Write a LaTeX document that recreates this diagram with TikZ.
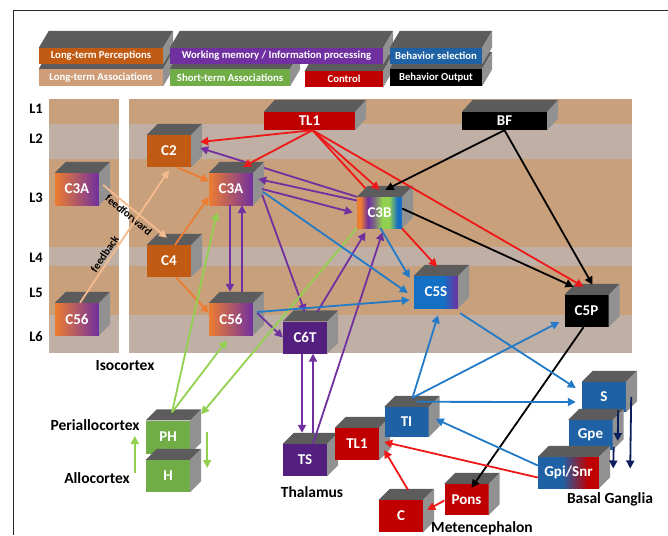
\documentclass[tikz,border=0pt]{standalone}
\usepackage{fontspec}
\setmainfont{Carlito}
\usetikzlibrary{arrows.meta}

\definecolor{tanbg}{RGB}{201,160,124}
\definecolor{greybg}{RGB}{191,175,165}
\definecolor{cubetop}{RGB}{92,92,92}
\definecolor{cubeside}{RGB}{145,145,145}
\definecolor{brownb}{RGB}{193,90,18}
\definecolor{ltassoc}{RGB}{207,157,120}
\definecolor{gorange}{RGB}{237,125,49}
\definecolor{gpurple}{RGB}{112,48,160}
\definecolor{dpurple}{RGB}{84,32,128}
\definecolor{lgreen}{RGB}{146,208,80}
\definecolor{boxgreen}{RGB}{112,173,71}
\definecolor{boxblue}{RGB}{30,98,165}
\definecolor{sblue}{RGB}{20,112,196}
\definecolor{boxred}{RGB}{192,0,0}
\definecolor{arred}{RGB}{238,24,24}
\definecolor{arblue}{RGB}{35,122,198}
\definecolor{arpeach}{RGB}{244,187,142}
\definecolor{arnavy}{RGB}{12,30,92}
\definecolor{framec}{RGB}{40,40,40}

\pgfdeclarelayer{front}
\pgfsetlayers{main,front}

% gradients of the mixed boxes
\pgfdeclarehorizontalshading{cthreeb}{100bp}{color(0bp)=(gorange); color(25bp)=(gorange); color(29bp)=(gorange); color(37bp)=(gpurple); color(43bp)=(gpurple!70!lgreen); color(53bp)=(lgreen); color(61bp)=(lgreen); color(70bp)=(sblue); color(75bp)=(sblue); color(100bp)=(sblue)}
\pgfdeclarehorizontalshading{cfives}{100bp}{color(0bp)=(sblue); color(25bp)=(sblue); color(58bp)=(sblue); color(75bp)=(gpurple); color(100bp)=(gpurple)}
\pgfdeclarehorizontalshading{gpisnr}{100bp}{color(0bp)=(boxblue); color(25bp)=(boxblue); color(45bp)=(boxblue); color(66bp)=(boxred); color(75bp)=(boxred); color(100bp)=(boxred)}

% front face as a node, then top and side
\newcommand{\brick}[5][11pt,11pt]{%
  \node[brick,#4] (#2) at (#3) {#5};
  \fill[bricktop] (#2.north west) -- ++(#1) -- ([shift={(#1)}]#2.north east) -- (#2.north east) -- cycle;
  \fill[brickside] (#2.north east) -- ([shift={(#1)}]#2.north east) -- ([shift={(#1)}]#2.south east) -- (#2.south east) -- cycle;
}

\tikzset{
  brick/.style={minimum width=44pt, minimum height=32pt, inner sep=0pt, text=white, font=\fontsize{15}{16}\selectfont\bfseries},
  bricktop/.style={fill=cubetop},
  brickside/.style={fill=cubeside},
  legendbox/.style={minimum height=16pt, font=\fontsize{10.7}{12}\selectfont\bfseries},
  laylabel/.style={font=\fontsize{14.5}{16}\selectfont\bfseries},
  region/.style={font=\fontsize{15.5}{17}\selectfont\bfseries},
  feed/.style={text=black, font=\fontsize{11}{12}\selectfont\bfseries, inner sep=2pt},
  ar/.style={line width=1.8pt, -{Triangle[length=8pt,width=8pt]}},
}

\begin{document}
\begin{tikzpicture}[x=1pt,y=-1pt]
\useasboundingbox (0,0) rectangle (668,535);
\draw[framec, line width=0.8pt] (13,535) -- (13,10) -- (668,10);

% cortical layers
\fill[tanbg] (49,99) rectangle (119,353);
\fill[tanbg] (129,99) rectangle (632,353);
\foreach \ya/\yb in {124/159,247/266,315/353}{
  \fill[greybg] (49,\ya) rectangle (119,\yb);
  \fill[greybg] (129,\ya) rectangle (632,\yb);
}
\foreach \n/\y in {1/109,2/139,3/198,4/258,5/293,6/337}
  \node[laylabel] (l\n) at (36,\y) {L\n};

% legend, lower row first
\brick[10pt,17pt]{lta}{101,77.5}{legendbox, fill=ltassoc, minimum width=124pt, minimum height=17pt}{Long-term Associations}
\brick[10pt,17pt]{sta}{230,77.5}{legendbox, fill=boxgreen, minimum width=120pt, minimum height=17pt}{Short-term Associations}
\brick[10pt,17pt]{ctl}{344,79}{legendbox, fill=boxred, minimum width=78pt}{Control}
\brick[10pt,17pt]{bout}{436,77.5}{legendbox, fill=black, minimum width=92pt, minimum height=17pt}{Behavior Output}
\brick[10pt,17pt]{ltp}{101,56}{legendbox, fill=brownb, minimum width=124pt}{Long-term Perceptions}
\brick[10pt,17pt]{wm}{276.5,56}{legendbox, fill=gpurple, minimum width=213pt}{Working memory / Information processing}
\brick[10pt,17pt]{bsel}{436,56}{legendbox, fill=boxblue, minimum width=92pt}{Behavior selection}

% isocortex
\brick{lc3a}{77,189}{left color=gorange, right color=gpurple}{C3A}
\brick{lc56}{77,319}{left color=gorange, right color=gpurple}{C56}
\brick{c2}{169,151}{fill=brownb}{C2}
\brick{c4}{169,261}{fill=brownb}{C4}
\brick{c56}{231,319}{left color=gorange, right color=gpurple}{C56}
\brick{c6t}{305,337.5}{fill=dpurple}{C6T}
\brick{c5s}{436,292}{shading=cfives}{C5S}
\brick{c5p}{586.5,311}{fill=black}{C5P}
\brick[11pt,12pt]{tl1}{309.5,121}{fill=boxred, minimum width=91pt, minimum height=18pt}{TL1}
\brick[11pt,12pt]{bf}{504.5,121}{fill=black, minimum width=85pt, minimum height=18pt}{BF}

% below the cortex
\brick{ph}{168,437}{fill=boxgreen, minimum height=33pt}{PH}
\brick{h}{168,476}{fill=boxgreen}{H}
\brick{ts}{305,460}{fill=dpurple}{TS}
\brick{thl}{357,444}{fill=boxred}{TL1}
\brick{ti}{406.5,422}{fill=boxblue, minimum height=30pt}{TI}
\brick{s}{604,397}{fill=boxblue, minimum height=30pt}{S}
\brick{gpe}{590.5,435}{fill=boxblue, minimum height=30pt}{Gpe}
\brick{gpi}{568.5,472.5}{shading=gpisnr, minimum width=61pt, minimum height=31pt}{Gpi/Snr}
\brick{pons}{466.5,499.5}{fill=boxred, minimum height=31pt}{Pons}
\brick{cbl}{401,516}{fill=boxred}{C}

\node[region] (iso) at (125,366) {Isocortex};
\node[region] (peri) at (95,425) {Periallocortex};
\node[region] (allo) at (97,478) {Allocortex};
\node[region] (thal) at (312,492) {Thalamus};
\node[region] (bg) at (610,499) {Basal Ganglia};
\node[region] (met) at (482,528) {Metencephalon};

\begin{pgfonlayer}{front}
\brick{c3a}{231,189}{left color=gorange, right color=gpurple}{C3A}
\brick{c3b}{379.5,212.5}{shading=cthreeb, minimum width=45pt, minimum height=31pt}{C3B}
\end{pgfonlayer}

% these two run behind C3A and C3B
\draw[ar, color=gpurple] (c3b.north west) -- ([xshift=9pt,yshift=3pt]c2.east);
\draw[ar, color=arred] ([xshift=3pt]tl1.south) -- ([xshift=1pt,yshift=9pt]c5s.north);

\begin{pgfonlayer}{front}
% long-term perceptions
\draw[ar, color=gorange] ([xshift=8pt]c2.south) -- ([yshift=8pt]c3a.west);
\draw[ar, color=gorange] ([xshift=6pt]c4.north) -- ([yshift=-8pt]c3a.west);
\draw[ar, color=gorange] ([xshift=7pt]c4.south) -- ([yshift=6pt]c56.west);
\draw[ar, color=arpeach] ([xshift=4pt,yshift=4pt]lc3a.east) -- node[feed, pos=0.47, sloped, below] {feedforward} ([xshift=-2pt,yshift=7pt]c4.north);
\draw[ar, color=arpeach] ([xshift=3pt]lc56.north) -- node[feed, pos=0.34, sloped, above] {feedback} ([yshift=-3pt]c2.south);

% control
\draw[ar, color=arred] ([xshift=3pt]tl1.south) -- ([xshift=9pt,yshift=9pt]c2.east);
\draw[ar, color=arred] ([xshift=3pt]tl1.south) -- ([xshift=12pt,yshift=6pt]c3a.north);
\draw[ar, color=arred] ([xshift=3pt]tl1.south) -- ([yshift=7pt]c3b.north);
\draw[ar, color=arred] ([xshift=3pt]tl1.south) -- ([xshift=-3pt,yshift=8pt]c5p.north);

% behavior output
\draw[ar, color=black] (bf.south) -- ([xshift=6pt,yshift=7pt]c3b.north);
\draw[ar, color=black] (bf.south) -- ([xshift=6pt,yshift=10pt]c5p.north);
\draw[ar, color=black] ([yshift=4pt]c3b.east) -- ([xshift=-13pt,yshift=8pt]c5p.north);
\draw[ar, color=black] ([xshift=-3pt]c5p.south) -- ([xshift=5pt,yshift=-4pt]pons.north);

% working memory
\draw[ar, color=gpurple] ([yshift=12pt]c3b.west) -- ([xshift=5pt,yshift=10pt]c3a.east);
\draw[ar, color=gpurple] ([xshift=9pt]c3a.east) -- ([xshift=-4pt]c3b.west);
\draw[ar, color=gpurple] ([xshift=-1pt]c3a.south) -- ([xshift=-1pt,yshift=11pt]c56.north);
\draw[ar, color=gpurple] ([xshift=11pt,yshift=11pt]c56.north) -- ([xshift=11pt]c3a.south);
\draw[ar, color=gpurple] ([xshift=9pt,yshift=-6pt]c3a.east) -- ([yshift=9pt]c6t.north);
\draw[ar, color=gpurple] ([xshift=4pt,yshift=6pt]c56.east) -- (c6t.west);
\draw[ar, color=gpurple] ([xshift=12pt,yshift=9pt]c6t.north) -- ([xshift=-14pt,yshift=-4pt]c3b.south);
\draw[ar, color=gpurple] ([xshift=8pt]ts.north) -- ([xshift=3pt,yshift=-4pt]c3b.south);
\draw[ar, color=gpurple] ([xshift=-3pt]c6t.south) -- ([xshift=-3pt,yshift=11pt]ts.north);
\draw[ar, color=gpurple] ([xshift=8pt,yshift=11pt]ts.north) -- ([xshift=8pt]c6t.south);

% short-term associations
\draw[ar, color=lgreen] ([xshift=4pt,yshift=8pt]ph.north) -- ([xshift=-14pt,yshift=-7pt]c3a.south);
\draw[ar, color=lgreen] ([xshift=4pt,yshift=8pt]ph.north) -- ([xshift=-4pt,yshift=-5pt]c56.south);
\draw[ar, color=lgreen] (c3b.south west) -- ([xshift=11pt,yshift=6pt]ph.north east);
\draw[ar, color=lgreen] ([xshift=-11pt,yshift=3pt]h.west) -- ([xshift=-11pt,yshift=1pt]ph.west);
\draw[ar, color=lgreen] ([xshift=17pt,yshift=5pt]ph.east) -- ([xshift=17pt,yshift=8pt]h.east);

% behavior selection
\draw[ar, color=arblue] ([xshift=10pt,yshift=-3pt]c3a.east) -- ([xshift=-6pt,yshift=-1pt]c5s.west);
\draw[ar, color=arblue] ([xshift=4pt,yshift=7pt]c56.east) -- ([xshift=-4pt,yshift=-8pt]c5s.west);
\draw[ar, color=arblue] ([xshift=1pt]c3b.south) -- ([xshift=-4pt,yshift=14pt]c5s.west);
\draw[ar, color=arblue] ([xshift=6pt,yshift=9pt]ti.north) -- ([xshift=2pt,yshift=-7pt]c5s.south);
\draw[ar, color=arblue] ([xshift=6pt,yshift=9pt]ti.north) -- ([xshift=-5pt,yshift=-11pt]c5p.west);
\draw[ar, color=arblue] ([xshift=10pt,yshift=5pt]ti.north) -- ([xshift=-6pt,yshift=-5pt]s.west);
\draw[ar, color=arblue] ([xshift=2pt,yshift=-5pt]c5s.south east) -- ([xshift=-6pt,yshift=9pt]s.west);
\draw[ar, color=arblue] ([yshift=7pt]gpi.west) -- ([xshift=7pt,yshift=3pt]ti.east);

% basal ganglia and metencephalon
\draw[ar, color=arnavy] ([xshift=-8pt,yshift=2pt]s.south east) -- ([xshift=5pt,yshift=-6pt]gpe.east);
\draw[ar, color=arnavy] ([xshift=1pt,yshift=-12pt]gpe.east) -- ([xshift=14pt,yshift=4pt]gpi.east);
\draw[ar, color=arnavy] ([xshift=5pt]s.east) -- ([xshift=31pt,yshift=4pt]gpi.east);
\draw[ar, color=arred] ([yshift=-5pt]gpi.west) -- ([xshift=5pt,yshift=2pt]thl.east);
\draw[ar, color=arred] ([xshift=7pt,yshift=10pt]cbl.north) -- ([xshift=5pt,yshift=-6pt]thl.east);
\draw[ar, color=arred] ([yshift=-1pt]pons.west) -- ([xshift=4pt,yshift=6pt]cbl.east);
\end{pgfonlayer}

\end{tikzpicture}
\end{document}
